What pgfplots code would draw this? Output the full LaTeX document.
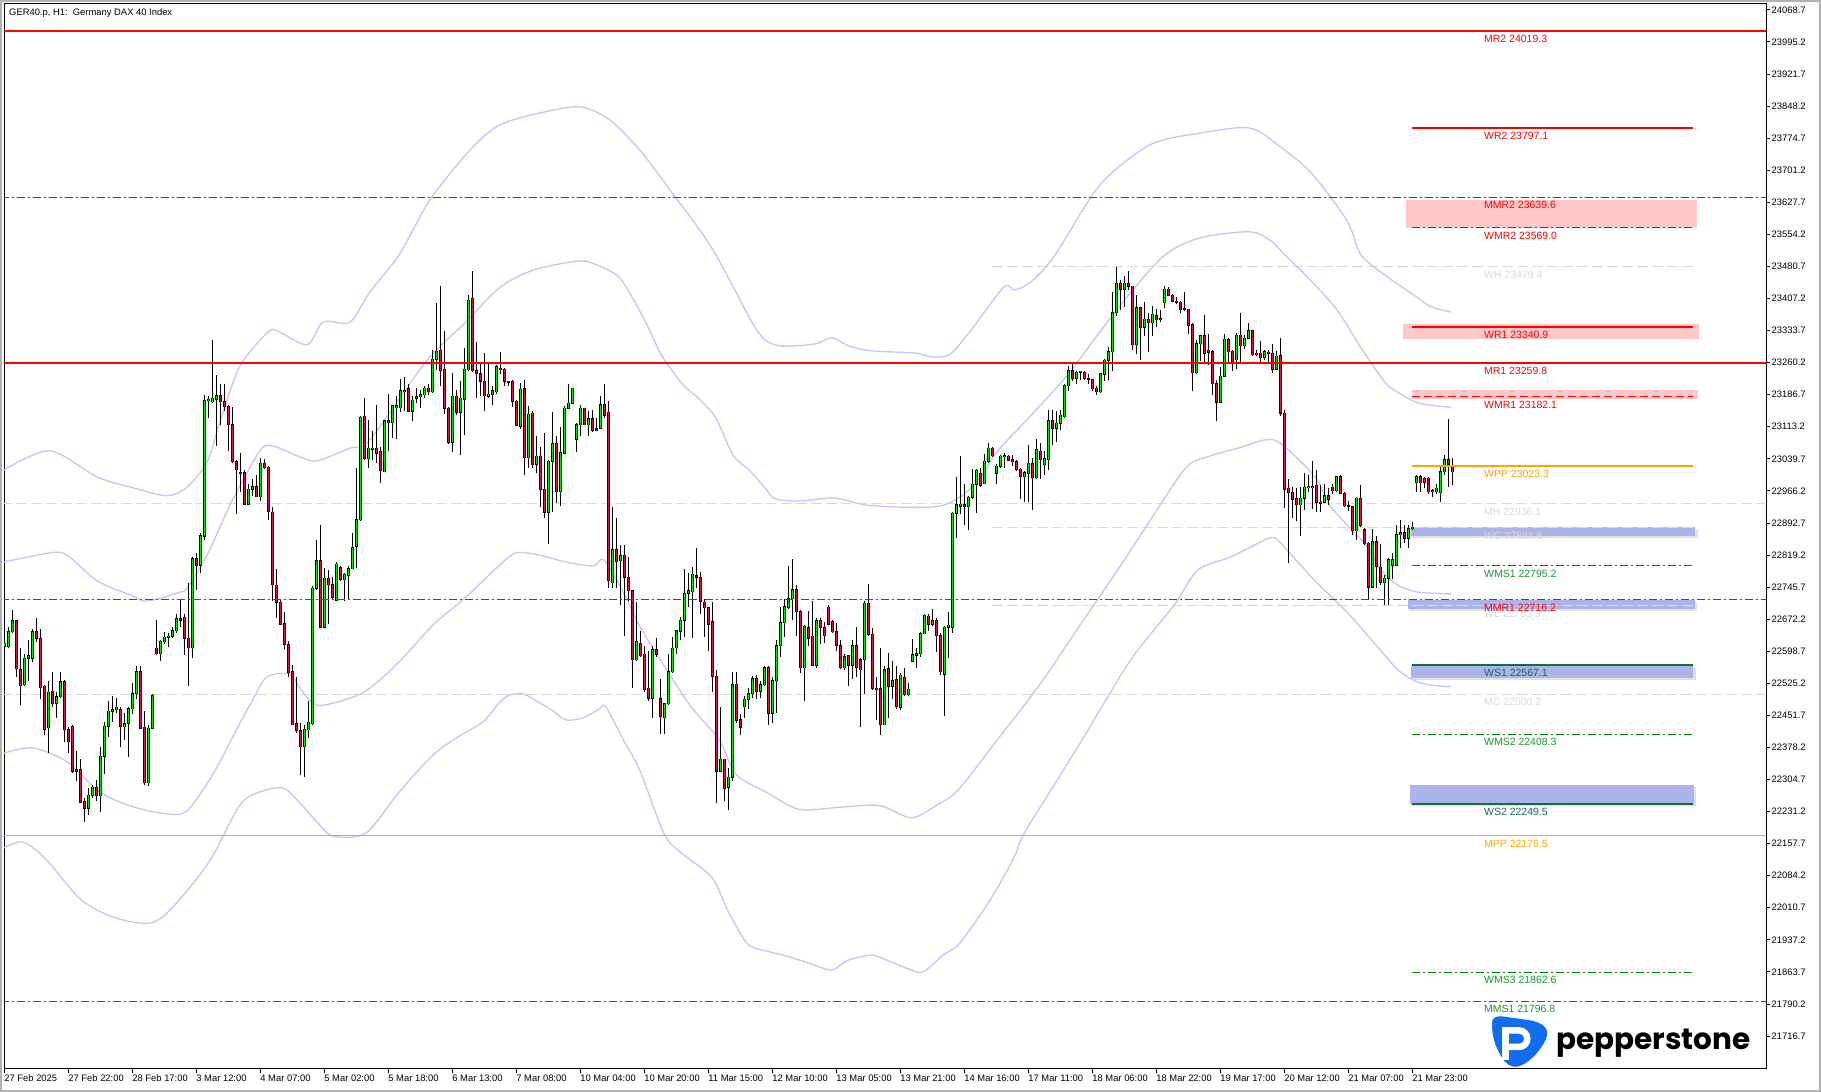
\documentclass[border=0pt]{standalone}
\usepackage{fontspec}
\setmainfont{Liberation Sans}
\newfontfamily\pepfont{Poppins}
\usepackage{pgfplots}
\usepackage{pgfplotstable}
\pgfplotsset{compat=1.18}

\definecolor{upc}{RGB}{0,235,0}
\definecolor{dnc}{RGB}{215,20,60}
\definecolor{bandc}{RGB}{196,196,250}
\definecolor{lvred}{RGB}{255,0,0}
\definecolor{lvgreen}{RGB}{0,135,0}
\definecolor{lvgreenlab}{RGB}{30,150,50}
\definecolor{wsline}{RGB}{20,110,60}
\definecolor{wslab}{RGB}{25,105,85}
\definecolor{lvorange}{RGB}{255,165,0}
\definecolor{lvgray}{RGB}{218,218,218}
\definecolor{pinkbox}{RGB}{255,200,200}
\definecolor{bluebox}{RGB}{170,180,232}
\definecolor{pepblue}{RGB}{18,108,240}
\tikzset{lab/.style={anchor=west, inner sep=0pt, yshift=-8pt, font=\fontsize{10.5}{12}\selectfont}}

\pgfplotstableread{
i o h l c
0 22610 22624 22605 22617
1 22609 22654 22607 22643
2 22643 22692 22641 22668
3 22668 22670 22539 22558
4 22556 22607 22475 22520
5 22522 22592 22518 22583
6 22582 22624 22531 22588
7 22583 22650 22573 22643
8 22643 22675 22620 22628
9 22628 22650 22488 22515
10 22518 22522 22406 22420
11 22423 22531 22365 22505
12 22507 22552 22471 22480
13 22480 22505 22446 22494
14 22494 22552 22492 22529
15 22529 22532 22391 22419
16 22419 22425 22365 22391
17 22425 22429 22320 22323
18 22323 22369 22301 22327
19 22327 22352 22250 22253
20 22253 22263 22208 22239
21 22239 22284 22223 22269
22 22269 22293 22263 22287
23 22287 22303 22255 22267
24 22267 22378 22229 22358
25 22358 22437 22318 22427
26 22427 22484 22403 22461
27 22461 22497 22437 22464
28 22464 22492 22458 22470
29 22464 22471 22378 22426
30 22426 22458 22395 22432
31 22433 22471 22357 22467
32 22467 22526 22454 22501
33 22501 22565 22488 22552
34 22552 22565 22420 22422
35 22424 22461 22293 22297
36 22297 22429 22289 22422
37 22422 22501 22420 22497
38 22605 22670 22590 22593
39 22593 22624 22577 22622
40 22620 22643 22616 22631
41 22631 22641 22609 22633
42 22633 22654 22628 22646
43 22646 22683 22641 22673
44 22673 22716 22654 22670
45 22677 22683 22590 22628
46 22628 22756 22518 22607
47 22607 22815 22583 22811
48 22811 22824 22739 22796
49 22796 22870 22777 22863
50 22862 23186 22853 23173
51 23173 23184 23133 23176
52 23170 23312 23167 23178
53 23176 23231 23070 23184
54 23184 23210 23116 23170
55 23170 23210 23150 23159
56 23160 23163 23057 23118
57 23118 23159 23031 23033
58 23033 23036 22913 23015
59 23008 23053 22964 23006
60 23008 23015 22934 22936
61 22936 22981 22935 22970
62 22970 22993 22955 22976
63 22976 23002 22951 22953
64 22953 23042 22942 23029
65 23029 23040 23016 23019
66 23020 23023 22900 22919
67 22917 22930 22713 22751
68 22750 22787 22675 22711
69 22711 22718 22658 22661
70 22661 22688 22603 22614
71 22614 22622 22539 22549
72 22552 22566 22429 22430
73 22432 22539 22412 22416
74 22416 22433 22314 22380
75 22380 22429 22310 22420
76 22419 22484 22399 22436
77 22432 22747 22429 22743
78 22743 22853 22739 22806
79 22806 22887 22651 22654
80 22654 22790 22652 22766
81 22766 22785 22662 22751
82 22751 22768 22718 22722
83 22716 22802 22713 22798
84 22790 22795 22760 22764
85 22763 22779 22713 22775
86 22773 22795 22718 22788
87 22788 22870 22787 22836
88 22839 23019 22790 22900
89 22900 23138 22898 23135
90 23137 23178 23036 23040
91 23040 23129 23019 23064
92 23062 23104 23036 23064
93 23064 23163 23031 23053
94 23057 23066 22985 23012
95 23010 23129 23009 23127
96 23127 23189 23057 23122
97 23122 23163 23087 23161
98 23157 23184 23084 23161
99 23157 23223 23146 23195
100 23193 23227 23150 23195
101 23200 23210 23147 23149
102 23149 23184 23126 23174
103 23179 23201 23167 23182
104 23182 23197 23156 23187
105 23187 23206 23180 23201
106 23201 23210 23186 23193
107 23193 23290 23191 23268
108 23268 23397 23244 23286
109 23288 23435 23206 23242
110 23245 23333 23142 23155
111 23155 23159 23074 23078
112 23078 23237 23055 23183
113 23183 23197 23140 23146
114 23146 23218 23049 23178
115 23176 23293 23095 23245
116 23244 23414 23242 23403
117 23408 23471 23239 23242
118 23242 23307 23180 23235
119 23235 23261 23184 23217
120 23217 23282 23149 23184
121 23183 23257 23180 23188
122 23188 23206 23163 23195
123 23193 23254 23189 23251
124 23247 23285 23234 23244
125 23245 23248 23206 23217
126 23217 23218 23206 23215
127 23217 23220 23159 23172
128 23172 23174 23115 23116
129 23114 23214 23108 23199
130 23200 23220 23003 23042
131 23042 23161 23019 23142
132 23144 23149 23019 23026
133 23027 23091 23006 23045
134 23045 23066 22930 22970
135 22970 23099 22903 22917
136 22917 23036 22845 23034
137 23034 23146 22917 23074
138 23074 23091 22938 22964
139 22964 23112 22932 23053
140 23053 23161 23051 23156
141 23156 23210 23155 23167
142 23167 23203 23166 23201
143 23084 23121 23055 23118
144 23118 23163 23091 23155
145 23155 23157 23116 23118
146 23118 23150 23091 23131
147 23131 23152 23101 23105
148 23108 23133 23103 23105
149 23110 23184 23108 23163
150 23163 23210 23133 23140
151 23146 23172 22743 22760
152 22756 22930 22743 22831
153 22831 22904 22743 22804
154 22806 22841 22705 22818
155 22819 22843 22634 22768
156 22768 22815 22713 22737
157 22737 22739 22514 22579
158 22579 22711 22577 22620
159 22617 22645 22586 22588
160 22592 22611 22505 22510
161 22514 22599 22484 22491
162 22491 22611 22446 22602
163 22602 22628 22586 22592
164 22490 22535 22409 22448
165 22446 22480 22409 22478
166 22478 22592 22475 22552
167 22552 22631 22549 22605
168 22607 22648 22592 22645
169 22645 22678 22624 22670
170 22670 22787 22632 22730
171 22731 22777 22700 22737
172 22735 22792 22628 22775
173 22772 22836 22743 22768
174 22768 22781 22683 22713
175 22711 22718 22632 22698
176 22698 22700 22599 22660
177 22666 22711 22505 22541
178 22541 22556 22250 22323
179 22323 22471 22321 22351
180 22351 22352 22255 22284
181 22287 22331 22235 22310
182 22310 22552 22301 22522
183 22523 22552 22433 22441
184 22441 22454 22406 22425
185 22471 22497 22446 22488
186 22488 22514 22467 22501
187 22501 22541 22492 22535
188 22535 22544 22488 22507
189 22507 22531 22492 22522
190 22522 22565 22520 22561
191 22561 22565 22429 22457
192 22457 22539 22433 22531
193 22531 22624 22458 22611
194 22611 22700 22586 22664
195 22664 22719 22632 22700
196 22700 22795 22696 22719
197 22719 22809 22670 22740
198 22740 22751 22634 22689
199 22689 22692 22548 22561
200 22561 22658 22484 22656
201 22652 22690 22611 22628
202 22633 22713 22566 22567
203 22567 22675 22561 22668
204 22668 22675 22616 22654
205 22654 22666 22617 22634
206 22699 22705 22658 22660
207 22666 22670 22641 22643
208 22643 22664 22600 22611
209 22611 22624 22558 22561
210 22561 22592 22556 22586
211 22588 22590 22518 22566
212 22566 22624 22535 22611
213 22611 22654 22539 22561
214 22579 22582 22425 22556
215 22579 22713 22501 22709
216 22709 22753 22634 22637
217 22637 22651 22510 22514
218 22514 22539 22441 22510
219 22512 22607 22406 22430
220 22430 22565 22429 22556
221 22558 22595 22446 22518
222 22518 22577 22488 22531
223 22533 22565 22467 22471
224 22470 22548 22463 22544
225 22539 22561 22497 22499
226 22499 22526 22497 22511
227 22576 22626 22573 22590
228 22590 22605 22561 22593
229 22593 22643 22586 22639
230 22639 22683 22637 22681
231 22679 22683 22645 22660
232 22660 22696 22656 22669
233 22669 22675 22597 22634
234 22634 22641 22543 22552
235 22546 22656 22450 22654
236 22654 22688 22583 22658
237 22654 22917 22641 22915
238 22915 22998 22858 22934
239 22931 23046 22913 22936
240 22934 22981 22887 22931
241 22930 22955 22877 22951
242 22951 23016 22947 22981
243 22981 23016 22915 23013
244 23006 23019 22976 22979
245 22983 23051 22981 23034
246 23034 23076 23031 23064
247 23064 23066 23044 23047
248 23006 23027 22983 23023
249 23023 23049 23019 23045
250 23045 23053 23019 23047
251 23045 23049 23035 23036
252 23037 23049 23023 23033
253 23033 23036 23011 23015
254 23016 23019 22947 22998
255 22998 23011 22940 23008
256 23006 23071 22940 23029
257 23029 23042 22923 22996
258 22996 23085 22994 23060
259 23057 23076 22994 23037
260 23026 23057 23002 23040
261 23038 23152 23015 23127
262 23127 23152 23072 23110
263 23110 23150 23078 23121
264 23121 23152 23106 23139
265 23136 23211 23133 23207
266 23207 23252 23195 23242
267 23242 23258 23218 23224
268 23224 23242 23210 23238
269 23238 23242 23220 23240
270 23238 23242 23220 23224
271 23224 23233 23212 23222
272 23221 23223 23195 23200
273 23201 23206 23186 23193
274 23193 23235 23191 23234
275 23234 23268 23218 23265
276 23265 23295 23221 23285
277 23285 23422 23242 23374
278 23374 23479 23367 23442
279 23442 23449 23381 23428
280 23428 23458 23388 23442
281 23442 23471 23427 23435
282 23435 23436 23288 23301
283 23301 23414 23280 23386
284 23386 23388 23267 23341
285 23341 23398 23320 23360
286 23360 23373 23284 23352
287 23352 23390 23322 23371
288 23368 23384 23341 23358
289 23361 23381 23354 23359
290 23397 23435 23386 23428
291 23428 23433 23412 23415
292 23415 23417 23399 23401
293 23401 23411 23394 23399
294 23398 23402 23373 23383
295 23383 23422 23378 23381
296 23382 23384 23325 23346
297 23347 23350 23195 23237
298 23237 23312 23235 23303
299 23303 23324 23263 23322
300 23322 23369 23261 23282
301 23288 23325 23255 23284
302 23285 23289 23187 23212
303 23212 23221 23126 23169
304 23169 23251 23167 23229
305 23229 23326 23227 23314
306 23312 23316 23261 23285
307 23286 23289 23241 23257
308 23267 23329 23245 23323
309 23323 23374 23262 23299
310 23299 23324 23292 23316
311 23316 23350 23315 23333
312 23333 23335 23276 23278
313 23282 23288 23276 23278
314 23282 23310 23262 23271
315 23271 23290 23265 23285
316 23284 23290 23261 23282
317 23282 23303 23237 23245
318 23245 23286 23244 23275
319 23276 23316 23137 23144
320 23144 23152 22927 22970
321 22972 22993 22801 22962
322 22962 22974 22903 22947
323 22949 22972 22896 22934
324 22934 22974 22862 22949
325 22949 23006 22923 22974
326 22974 23003 22964 22976
327 22973 23034 22925 22976
328 22979 23015 22917 22940
329 22940 22979 22917 22938
330 22940 22981 22938 22955
331 22955 22972 22934 22947
332 22974 22981 22959 22966
333 22966 23000 22964 22998
334 22998 23002 22959 22961
335 22961 22964 22930 22932
336 22932 22942 22921 22930
337 22930 22932 22866 22875
338 22875 22951 22853 22949
339 22949 22979 22883 22887
340 22877 22881 22843 22845
341 22846 22849 22716 22745
342 22745 22879 22743 22849
343 22849 22862 22744 22794
344 22791 22845 22751 22757
345 22756 22773 22705 22766
346 22766 22813 22705 22808
347 22796 22824 22764 22808
348 22796 22887 22794 22866
349 22866 22900 22836 22870
350 22870 22887 22847 22857
351 22857 22889 22836 22879
352 22879 22894 22877 22883
353 22985 23002 22963 22999
354 22999 23002 22963 22985
355 22995 22999 22972 22985
356 22995 22999 22959 22964
357 22964 22970 22951 22966
358 22964 22981 22959 22972
359 22962 23021 22940 23010
360 23010 23049 23002 23037
361 23037 23131 22976 23027
362 23025 23042 22979 23010
}\candles

\pgfplotstableread{
i p
-0.2 23014
11.3 23058
23.1 22998
32.1 22973
40.6 22955
45.6 22975
50.6 23032
53.8 23124
58.8 23252
65.6 23328
68.1 23333
75.6 23301
79.6 23353
86.3 23353
91.3 23422
98.6 23507
106.3 23633
116.3 23747
123.8 23805
135.1 23835
144.1 23846
151.3 23816
158.8 23747
166.3 23656
173.8 23564
177.8 23507
182.8 23422
186.8 23353
190.1 23312
194.3 23298
202.6 23303
206.8 23317
211.1 23298
216.8 23287
227.6 23282
231.8 23273
236.1 23278
240.1 23317
245.1 23378
250.1 23436
252.6 23427
256.8 23447
262.6 23507
273.8 23667
286.3 23759
298.8 23786
311.1 23798
318.3 23759
326.8 23693
335.6 23585
339.1 23507
345.8 23456
352.6 23413
356.6 23388
361.6 23376
}\bandA

\pgfplotstableread{
i p
-0.2 22803
11.3 22824
15.6 22819
23.1 22760
32.1 22725
34.6 22714
38.1 22718
43.8 22734
45.6 22744
50.6 22819
55.6 22920
57.1 22948
63.8 23058
67.1 23069
73.8 23044
78.1 23035
86.3 23064
91.3 23083
105.3 23262
115.3 23353
123.6 23431
132.1 23472
143.6 23493
148.6 23482
153.6 23456
157.1 23406
161.1 23337
163.6 23287
165.3 23262
169.6 23209
173.6 23177
177.8 23133
182.1 23048
186.1 23014
190.1 22973
192.6 22948
198.6 22943
206.8 22950
211.1 22943
215.1 22934
223.6 22929
231.8 22929
236.1 22938
240.1 22961
243.6 22993
248.6 23061
254.6 23120
265.1 23225
273.6 23328
281.6 23422
290.1 23507
298.8 23546
311.1 23560
316.3 23541
320.1 23507
327.6 23438
333.3 23378
339.1 23294
344.1 23227
346.6 23202
353.3 23168
361.6 23158
}\bandB

\pgfplotstableread{
i p
-0.2 22365
7.1 22377
15.6 22345
23.8 22276
32.1 22242
40.6 22226
45.6 22233
52.1 22317
57.1 22404
62.1 22489
65.6 22540
71.3 22546
73.8 22514
78.1 22475
86.3 22491
91.3 22514
98.6 22574
107.1 22659
113.6 22709
117.8 22744
123.6 22795
127.8 22824
133.6 22819
140.3 22803
147.1 22794
149.8 22808
154.8 22731
158.8 22655
166.8 22537
171.8 22469
178.8 22393
182.7 22317
190.7 22274
198.7 22236
208.7 22241
218.7 22245
226.7 22217
233.6 22249
238.6 22283
248.6 22401
258.6 22520
268.6 22655
278.6 22790
286.5 22900
295.3 23019
301.3 23046
308.3 23064
315.1 23083
319.1 23074
327.6 22998
331.6 22929
340.1 22844
344.1 22785
348.3 22750
353.3 22734
361.6 22730
}\bandC

\pgfplotstableread{
i p
-0.2 22148
4.6 22161
10.3 22122
19.1 22029
27.8 21987
36.6 21976
42.3 22015
51.1 22116
58.8 22246
63.8 22276
69.6 22285
73.8 22251
78.1 22207
82.1 22175
90.3 22182
98.6 22276
107.1 22361
113.6 22404
119.6 22437
123.6 22480
126.1 22498
129.6 22501
132.1 22489
137.1 22462
140.3 22441
144.6 22446
148.6 22466
150.3 22471
154.8 22393
158.8 22325
164.8 22181
168.8 22139
176.8 22080
180.8 22004
185.7 21928
190.7 21911
194.7 21902
200.7 21885
206.7 21868
210.7 21890
216.7 21902
220.7 21890
226.7 21868
229.7 21864
234.6 21902
238.6 21928
244.6 22004
248.6 22063
252.6 22131
254.6 22177
260.6 22266
268.6 22384
278.6 22537
283.5 22604
292.5 22706
298.3 22785
306.6 22815
315.1 22854
317.6 22858
320.1 22835
327.6 22760
336.0 22684
344.1 22599
348.3 22556
352.6 22530
356.6 22521
361.6 22517
}\bandD

\begin{document}
\begin{tikzpicture}[x=1pt,y=1pt]
\fill[white] (0,0) rectangle (1821,1092);
\path[use as bounding box] (0,0) rectangle (1821,1092);
\draw[black!30, line width=2pt] (1,1) rectangle (1820,1091);
\begin{axis}[
  at={(4pt,23pt)}, anchor=south west,
  scale only axis, width=1762.5pt, height=1065pt,
  xmin=-0.175, xmax=440.45, ymin=21641.1, ymax=24082.1,
  axis line style={black, line width=1pt},
  xtick pos=bottom, ytick pos=right, yticklabel pos=right,
  tick align=outside, major tick length=4pt,
  every tick/.style={black, line width=0.8pt},
  scaled y ticks=false,
  xtick={0,16,...,352},
  xticklabels={27 Feb 2025, 27 Feb 22:00, 28 Feb 17:00, 3 Mar 12:00, 4 Mar 07:00, 5 Mar 02:00, 5 Mar 18:00, 6 Mar 13:00, 7 Mar 08:00, 10 Mar 04:00, 10 Mar 20:00, 11 Mar 15:00, 12 Mar 10:00, 13 Mar 05:00, 13 Mar 21:00, 14 Mar 16:00, 17 Mar 11:00, 18 Mar 06:00, 18 Mar 22:00, 19 Mar 17:00, 20 Mar 12:00, 21 Mar 07:00, 21 Mar 23:00},
  ytick={21716.7,21790.2,21863.7,21937.2,22010.7,22084.2,22157.7,22231.2,22304.7,22378.2,22451.7,22525.2,22598.7,22672.2,22745.7,22819.2,22892.7,22966.2,23039.7,23113.2,23186.7,23260.2,23333.7,23407.2,23480.7,23554.2,23627.7,23701.2,23774.7,23848.2,23921.7,23995.2,24068.7},
  every tick label/.append style={font=\fontsize{9.4}{11}\selectfont, black},
  xticklabel style={anchor=north west, inner sep=0pt, xshift=-0.5pt, yshift=-1.5pt},
  yticklabel style={anchor=west, inner sep=0pt, xshift=1pt},
  /pgf/number format/fixed,
  /pgf/number format/fixed zerofill,
  /pgf/number format/precision=1,
  /pgf/number format/1000 sep={},
  /pgf/number format/assume math mode=true,
]
% boxes (shadows then fills)
\addplot[fill=black!12, draw=none] coordinates {(351.9,22879) (423.3,22879) (423.3,22858) (351.9,22858)};
\addplot[fill=bluebox, draw=none] coordinates {(351.6,22883.4) (422.6,22883.4) (422.6,22862.8) (351.6,22862.8)};
\addplot[fill=black!12, draw=none] coordinates {(351.1,22711) (423.2,22711) (423.2,22691) (351.1,22691)};
\addplot[fill=bluebox, draw=none] coordinates {(350.8,22716.1) (422.5,22716.1) (422.5,22695.5) (350.8,22695.5)};
\addplot[fill=black!12, draw=none] coordinates {(351.9,22561) (422.8,22561) (422.8,22532) (351.9,22532)};
\addplot[fill=bluebox, draw=none] coordinates {(351.6,22565.5) (422.1,22565.5) (422.1,22536.6) (351.6,22536.6)};
\addplot[fill=black!12, draw=none] coordinates {(351.6,22288) (422.8,22288) (422.8,22245) (351.6,22245)};
\addplot[fill=bluebox, draw=none] coordinates {(351.3,22292) (422.3,22292) (422.3,22249.5) (351.3,22249.5)};
\addplot[fill=pinkbox, draw=none] coordinates {(350.3,23633) (423,23633) (423,23569) (350.3,23569)};
\addplot[fill=pinkbox, draw=none] coordinates {(349.5,23349) (423.6,23349) (423.6,23314) (349.5,23314)};
\addplot[fill=pinkbox, draw=none] coordinates {(351.8,23197) (423.3,23197) (423.3,23176) (351.8,23176)};
% light gray dashed lines
\addplot[lvgray, line width=1pt, dash pattern=on 11pt off 4pt] coordinates {(-1,22936.1) (441,22936.1)};
\addplot[lvgray, line width=1pt, dash pattern=on 11pt off 4pt] coordinates {(-1,22500.2) (441,22500.2)};
\addplot[lvgray, line width=1pt, dash pattern=on 11pt off 4pt] coordinates {(246.8,23479.4) (422.1,23479.4)};
\addplot[lvgray, line width=1pt, dash pattern=on 11pt off 4pt] coordinates {(246.8,22881.8) (422.1,22881.8)};
\addplot[lvgray, line width=1pt, dash pattern=on 11pt off 4pt] coordinates {(246.8,22703.3) (422.1,22703.3)};
% bands
\addplot[bandc, line width=1.3pt, smooth, mark=none] table[x=i, y=p] {\bandA};
\addplot[bandc, line width=1.3pt, smooth, mark=none] table[x=i, y=p] {\bandB};
\addplot[bandc, line width=1.3pt, smooth, mark=none] table[x=i, y=p] {\bandC};
\addplot[bandc, line width=1.3pt, smooth, mark=none] table[x=i, y=p] {\bandD};
% candles: wicks
\addplot[black, line width=1pt, quiver={u=0, v={\thisrow{h}-\thisrow{l}}}] table[x=i, y=l] {\candles};
% candles: body outline
\addplot[black, line width=3.2pt, quiver={u=0, v={abs(\thisrow{c}-\thisrow{o})+2.4}}] table[x=i, y expr={min(\thisrow{o},\thisrow{c})-1.2}] {\candles};
% candles: bull fill
\addplot[upc, line width=1.4pt, quiver={u=0, v={\thisrow{c}-\thisrow{o}}}, restrict expr to domain={\thisrow{c}-\thisrow{o}}{0.5:100000}] table[x=i, y=o] {\candles};
% candles: bear fill
\addplot[dnc, line width=1.4pt, quiver={u=0, v={\thisrow{o}-\thisrow{c}}}, restrict expr to domain={\thisrow{o}-\thisrow{c}}{0.5:100000}] table[x=i, y=c] {\candles};
% monthly full-width lines
\addplot[lvred, line width=2pt] coordinates {(-1,24019.3) (441,24019.3)};
\addplot[lvred, line width=1pt, dash pattern=on 8pt off 3pt on 2pt off 3pt] coordinates {(-1,23639.6) (441,23639.6)};
\addplot[lvred, line width=2pt] coordinates {(-1,23259.8) (441,23259.8)};
\addplot[lvred, line width=1pt, dash pattern=on 8pt off 3pt on 2pt off 3pt] coordinates {(-1,22716.2) (441,22716.2)};
\addplot[lvorange, line width=1.2pt] coordinates {(-1,22176.5) (441,22176.5)};
\addplot[lvgreen, line width=1pt, dash pattern=on 8pt off 3pt on 2pt off 3pt] coordinates {(-1,21796.8) (441,21796.8)};
% weekly lines
\addplot[lvred, line width=2pt] coordinates {(351.8,23797.1) (422.1,23797.1)};
\addplot[lvred, line width=1pt, dash pattern=on 8pt off 3pt on 2pt off 3pt] coordinates {(351.8,23569.0) (422.1,23569.0)};
\addplot[lvred, line width=2pt] coordinates {(351.8,23340.9) (422.1,23340.9)};
\addplot[lvred, line width=1pt, dash pattern=on 8pt off 4pt] coordinates {(351.8,23182.1) (422.1,23182.1)};
\addplot[lvorange, line width=2pt] coordinates {(351.8,23023.3) (422.1,23023.3)};
\addplot[lvgreen, line width=1pt, dash pattern=on 8pt off 3pt on 2pt off 3pt] coordinates {(351.8,22795.2) (422.1,22795.2)};
\addplot[wsline, line width=2pt] coordinates {(351.8,22567.1) (422.1,22567.1)};
\addplot[lvgreen, line width=1pt, dash pattern=on 8pt off 3pt on 2pt off 3pt] coordinates {(351.8,22408.3) (422.1,22408.3)};
\addplot[wsline, line width=2pt] coordinates {(351.8,22249.5) (422.1,22249.5)};
\addplot[lvgreen, line width=1pt, dash pattern=on 8pt off 3pt on 2pt off 3pt] coordinates {(351.8,21862.6) (422.1,21862.6)};
% labels
\node[lab, text=lvred] at (axis cs:369.8,24019.3) {MR2 24019.3};
\node[lab, text=lvred] at (axis cs:369.8,23797.1) {WR2 23797.1};
\node[lab, text=lvred] at (axis cs:369.8,23639.6) {MMR2 23639.6};
\node[lab, text=lvred] at (axis cs:369.8,23569.0) {WMR2 23569.0};
\node[lab, text=lvgray] at (axis cs:369.8,23479.4) {WH 23479.4};
\node[lab, text=lvred] at (axis cs:369.8,23340.9) {WR1 23340.9};
\node[lab, text=lvred] at (axis cs:369.8,23259.8) {MR1 23259.8};
\node[lab, text=lvred] at (axis cs:369.8,23182.1) {WMR1 23182.1};
\node[lab, text=lvorange] at (axis cs:369.8,23023.3) {WPP 23023.3};
\node[lab, text=lvgray] at (axis cs:369.8,22936.1) {MH 22936.1};
\node[lab, text=lvgray] at (axis cs:369.8,22881.8) {WC 22881.8};
\node[lab, text=lvgreenlab] at (axis cs:369.8,22795.2) {WMS1 22795.2};
\node[lab, text=lvgray] at (axis cs:369.8,22703.3) {WL 22703.3};
\node[lab, text=lvred] at (axis cs:369.8,22716.2) {MMR1 22716.2};
\node[lab, text=wslab] at (axis cs:369.8,22567.1) {WS1 22567.1};
\node[lab, text=lvgray] at (axis cs:369.8,22500.2) {MC 22500.2};
\node[lab, text=lvgreenlab] at (axis cs:369.8,22408.3) {WMS2 22408.3};
\node[lab, text=wslab] at (axis cs:369.8,22249.5) {WS2 22249.5};
\node[lab, text=lvorange] at (axis cs:369.8,22176.5) {MPP 22176.5};
\node[lab, text=lvgreenlab] at (axis cs:369.8,21862.6) {WMS3 21862.6};
\node[lab, text=lvgreenlab] at (axis cs:369.8,21796.8) {MMS1 21796.8};
\end{axis}
% title
\node[anchor=base west, inner sep=0pt, font=\fontsize{9.4}{11}\selectfont] at (9,1076.5) {GER40.p, H1:\ \ Germany DAX 40 Index};
% pepperstone logo
\fill[pepblue] (1492,68) .. controls (1492,75) and (1496,76) .. (1503,75.5)
  -- (1528,72) .. controls (1545,69.5) and (1550,62) .. (1546,53)
  .. controls (1540,40) and (1528,28) .. (1518,25.5)
  .. controls (1510,24) and (1505,29) .. (1501,36)
  .. controls (1495,46) and (1492,56) .. cycle;
\fill[white] (1501.5,32) rectangle (1508.5,65);
\draw[white, line width=6.5pt] (1505,61.6) -- (1519,61.6) arc[start angle=90, end angle=-90, radius=8.3] -- (1505,45);
\node[anchor=base west, inner sep=0pt] at (1556,42) {\pepfont\bfseries\fontsize{29.5}{30}\selectfont pepperstone};
\end{tikzpicture}
\end{document}
